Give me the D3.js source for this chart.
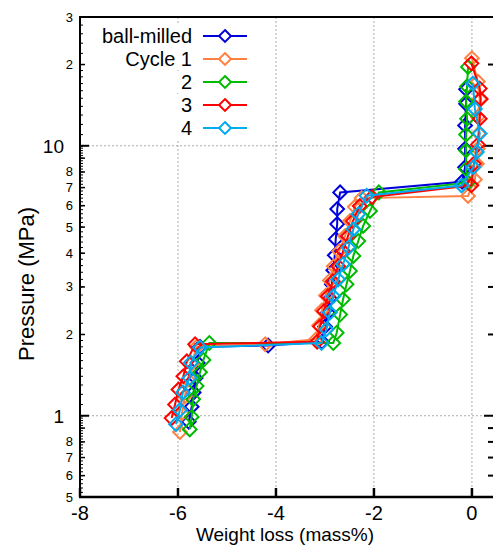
<!DOCTYPE html>
<html>
<head>
<meta charset="utf-8">
<script src="https://cdn.jsdelivr.net/npm/d3@7"></script>
<style>
  body { margin: 0; background: #fff; }
  text { font-family: "Liberation Sans", Arial, sans-serif; fill: #000; }
</style>
</head>
<body>
<svg id="chart" width="493" height="545"></svg>
<script>
// values
const seriesNames = ['ball-milled', 'Cycle 1', '2', '3', '4'];
const seriesColors = ['#0000dd', '#ff8040', '#00bb00', '#ff0000', '#00aaee'];

const ballMilledLoss = [-5.78, -5.72, -5.68, -5.64, -5.60, -5.55, -4.16, -3.06, -3.00, -2.94, -2.90, -2.86, -2.83, -2.80, -2.78, -2.75, -2.75, -2.69, -0.20, -0.14, -0.14, -0.14, -0.12, -0.12];
const ballMilledP = [0.95, 1.08, 1.22, 1.38, 1.57, 1.80, 1.82, 1.88, 2.14, 2.41, 2.72, 3.07, 3.46, 3.93, 4.51, 5.13, 5.83, 6.72, 7.36, 8.33, 9.75, 11.9, 14.3, 16.2];

const cycle1Loss = [-5.96, -5.92, -5.86, -5.80, -5.72, -5.62, -4.22, -3.18, -3.12, -3.06, -2.98, -2.90, -2.82, -2.71, -2.59, -2.49, -2.39, -2.25, -0.08, 0.06, 0.10, 0.12, 0.14, 0.12, 0.16, 0.12, 0.0];
const cycle1P = [0.87, 1.02, 1.18, 1.36, 1.56, 1.80, 1.84, 1.92, 2.16, 2.46, 2.79, 3.17, 3.58, 4.07, 4.63, 5.26, 5.94, 6.4, 6.52, 7.5, 8.58, 9.75, 11.1, 12.8, 14.9, 17.3, 21.1];

const cycle2Loss = [-5.76, -5.72, -5.69, -5.62, -5.55, -5.48, -5.36, -2.83, -2.76, -2.69, -2.63, -2.56, -2.49, -2.42, -2.32, -2.22, -2.08, -1.90, -0.08, -0.12, -0.12, -0.12, -0.10, -0.12, -0.10, -0.08];
const cycle2P = [0.89, 0.99, 1.15, 1.29, 1.45, 1.61, 1.86, 1.86, 2.03, 2.37, 2.70, 3.07, 3.44, 3.91, 4.44, 5.05, 5.74, 6.72, 7.3, 8.2, 9.6, 11.0, 12.6, 14.6, 16.6, 19.6];

const cycle3Loss = [-6.13, -6.06, -5.99, -5.89, -5.82, -5.65, -3.16, -3.10, -3.02, -2.94, -2.84, -2.73, -2.63, -2.53, -2.43, -2.29, -2.04, -0.01, 0.04, 0.12, 0.16, 0.18, 0.16, -0.01];
const cycle3P = [0.98, 1.10, 1.25, 1.40, 1.59, 1.84, 1.88, 2.14, 2.44, 2.77, 3.15, 3.58, 4.07, 4.63, 5.26, 5.98, 6.46, 7.14, 8.58, 10.1, 12.6, 14.9, 16.3, 20.2];

const cycle4Loss = [-6.04, -5.96, -5.90, -5.76, -5.74, -5.55, -3.07, -2.97, -2.90, -2.83, -2.73, -2.63, -2.52, -2.42, -2.32, -2.15, -0.21, 0.03, 0.10, 0.16, 0.06, 0.02];
const cycle4P = [0.93, 1.05, 1.22, 1.38, 1.57, 1.79, 1.86, 2.09, 2.41, 2.77, 3.20, 3.64, 4.20, 4.91, 5.58, 6.53, 7.13, 8.33, 9.49, 11.1, 13.7, 17.0];

const xTicks = [-8, -6, -4, -2, 0];
const yMajorTicks = [1, 10];
const yMinorLabels = [0.5, 0.6, 0.7, 0.8, 2, 3, 4, 5, 6, 7, 8, 20, 30];

const allLoss = [ballMilledLoss, cycle1Loss, cycle2Loss, cycle3Loss, cycle4Loss];
const allP = [ballMilledP, cycle1P, cycle2P, cycle3P, cycle4P];

const svg = d3.select('#chart');
const plotLeft = 80, plotRight = 493, plotTop = 17, plotBottom = 497;

const x = d3.scaleLinear().domain([-8, 0.43]).range([plotLeft, plotRight]);
const y = d3.scaleLog().domain([0.5, 30]).range([plotBottom, plotTop]);

// grid
const grid = svg.append('g').attr('stroke', '#aaa').attr('stroke-width', 1).attr('stroke-dasharray', '2,2');
grid.selectAll('.gx').data(xTicks.slice(1)).enter().append('line')
  .attr('x1', d => x(d)).attr('x2', d => x(d)).attr('y1', plotTop).attr('y2', plotBottom);
grid.selectAll('.gy').data(yMajorTicks).enter().append('line')
  .attr('x1', plotLeft).attr('x2', plotRight).attr('y1', d => y(d)).attr('y2', d => y(d));

// fine ticks for left axis
let fine = [];
[0.1, 1, 10].forEach(dec => {
  for (let m = 1; m < 10; m += (m < 2 ? 0.1 : 0.2)) {
    const v = +(m * dec).toFixed(4);
    if (v >= 0.5 && v <= 30) fine.push(v);
  }
});
let ints = [];
[0.1, 1, 10].forEach(dec => {
  for (let m = 2; m <= 9; m++) {
    const v = m * dec;
    if (v >= 0.5 && v <= 30) ints.push(v);
  }
});

const axes = svg.append('g').attr('stroke', '#000');
axes.selectAll('.f').data(fine).enter().append('line')
  .attr('x1', plotLeft).attr('x2', plotLeft + 3).attr('y1', d => y(d)).attr('y2', d => y(d)).attr('stroke-width', 1);
axes.selectAll('.i').data(ints).enter().append('line')
  .attr('x1', plotLeft).attr('x2', plotLeft + 5).attr('y1', d => y(d)).attr('y2', d => y(d)).attr('stroke-width', 1.5);
axes.selectAll('.m').data(yMajorTicks).enter().append('line')
  .attr('x1', plotLeft).attr('x2', plotLeft + 9).attr('y1', d => y(d)).attr('y2', d => y(d)).attr('stroke-width', 2);
// right side ticks
axes.selectAll('.ri').data(ints).enter().append('line')
  .attr('x1', plotRight - 5).attr('x2', plotRight).attr('y1', d => y(d)).attr('y2', d => y(d)).attr('stroke-width', 2);
axes.selectAll('.rm').data(yMajorTicks).enter().append('line')
  .attr('x1', plotRight - 9).attr('x2', plotRight).attr('y1', d => y(d)).attr('y2', d => y(d)).attr('stroke-width', 2);
// x ticks
axes.selectAll('.xt').data(xTicks).enter().append('line')
  .attr('x1', d => x(d)).attr('x2', d => x(d)).attr('y1', plotBottom).attr('y2', plotBottom - 9).attr('stroke-width', 2.5);

// frame
axes.append('line').attr('x1', plotLeft).attr('x2', plotLeft).attr('y1', plotTop).attr('y2', plotBottom).attr('stroke-width', 2);
axes.append('line').attr('x1', plotLeft - 1).attr('x2', plotRight).attr('y1', plotBottom).attr('y2', plotBottom).attr('stroke-width', 2.5);
axes.append('line').attr('x1', plotLeft - 1).attr('x2', plotRight).attr('y1', plotTop).attr('y2', plotTop).attr('stroke-width', 2);

// tick labels
svg.selectAll('.xl').data(xTicks).enter().append('text')
  .attr('x', d => x(d)).attr('y', 520).attr('text-anchor', 'middle')
  .style('font-size', '20px').text(d => d);
svg.selectAll('.yl').data(yMajorTicks).enter().append('text')
  .attr('x', 64).attr('y', d => y(d) + 7).attr('text-anchor', 'end')
  .style('font-size', '19px').text(d => d);
svg.selectAll('.ys').data(yMinorLabels).enter().append('text')
  .attr('x', 73).attr('y', d => y(d) + 4.5).attr('text-anchor', 'end')
  .style('font-size', '13px').text(d => d < 1 ? Math.round(d * 10) : (d >= 10 ? d / 10 : d));

// axis titles
svg.append('text').attr('x', 285).attr('y', 541).attr('text-anchor', 'middle')
  .style('font-size', '19px').text('Weight loss (mass%)');
svg.append('text').attr('transform', 'translate(34,284) rotate(-90)').attr('text-anchor', 'middle')
  .style('font-size', '22px').text('Pressure (MPa)');

// series
const diamond = d3.symbol().type(d3.symbolDiamond2).size(120);
const line = d3.line().x(d => x(d[0])).y(d => y(d[1]));

seriesNames.forEach((name, i) => {
  const pts = allLoss[i].map((v, j) => [v, allP[i][j]]);
  const g = svg.append('g');
  g.append('path').datum(pts).attr('d', line).attr('fill', 'none')
    .attr('stroke', seriesColors[i]).attr('stroke-width', 2);
  g.selectAll('path.pt').data(pts).enter().append('path').attr('class', 'pt')
    .attr('d', diamond).attr('transform', d => 'translate(' + x(d[0]) + ',' + y(d[1]) + ')')
    .attr('fill', 'none').attr('stroke', seriesColors[i]).attr('stroke-width', 2);
});

// legend
const legend = svg.append('g');
const rowY = [36, 59, 82, 105, 128];
const legendDiamond = d3.symbol().type(d3.symbolDiamond2).size(90);
seriesNames.forEach((name, i) => {
  const row = legend.append('g').attr('transform', 'translate(0,' + rowY[i] + ')');
  row.append('rect').attr('x', 96).attr('y', -11).attr('width', 154).attr('height', 22).attr('fill', '#fff');
  row.append('text').attr('x', 192).attr('y', 7).attr('text-anchor', 'end')
    .style('font-size', '20px').text(name);
  row.append('line').attr('x1', 203).attr('x2', 247).attr('y1', 0).attr('y2', 0)
    .attr('stroke', seriesColors[i]).attr('stroke-width', 2);
  row.append('path').attr('d', legendDiamond).attr('transform', 'translate(225,0)')
    .attr('fill', '#fff').attr('stroke', seriesColors[i]).attr('stroke-width', 2);
});
</script>
</body>
</html>
